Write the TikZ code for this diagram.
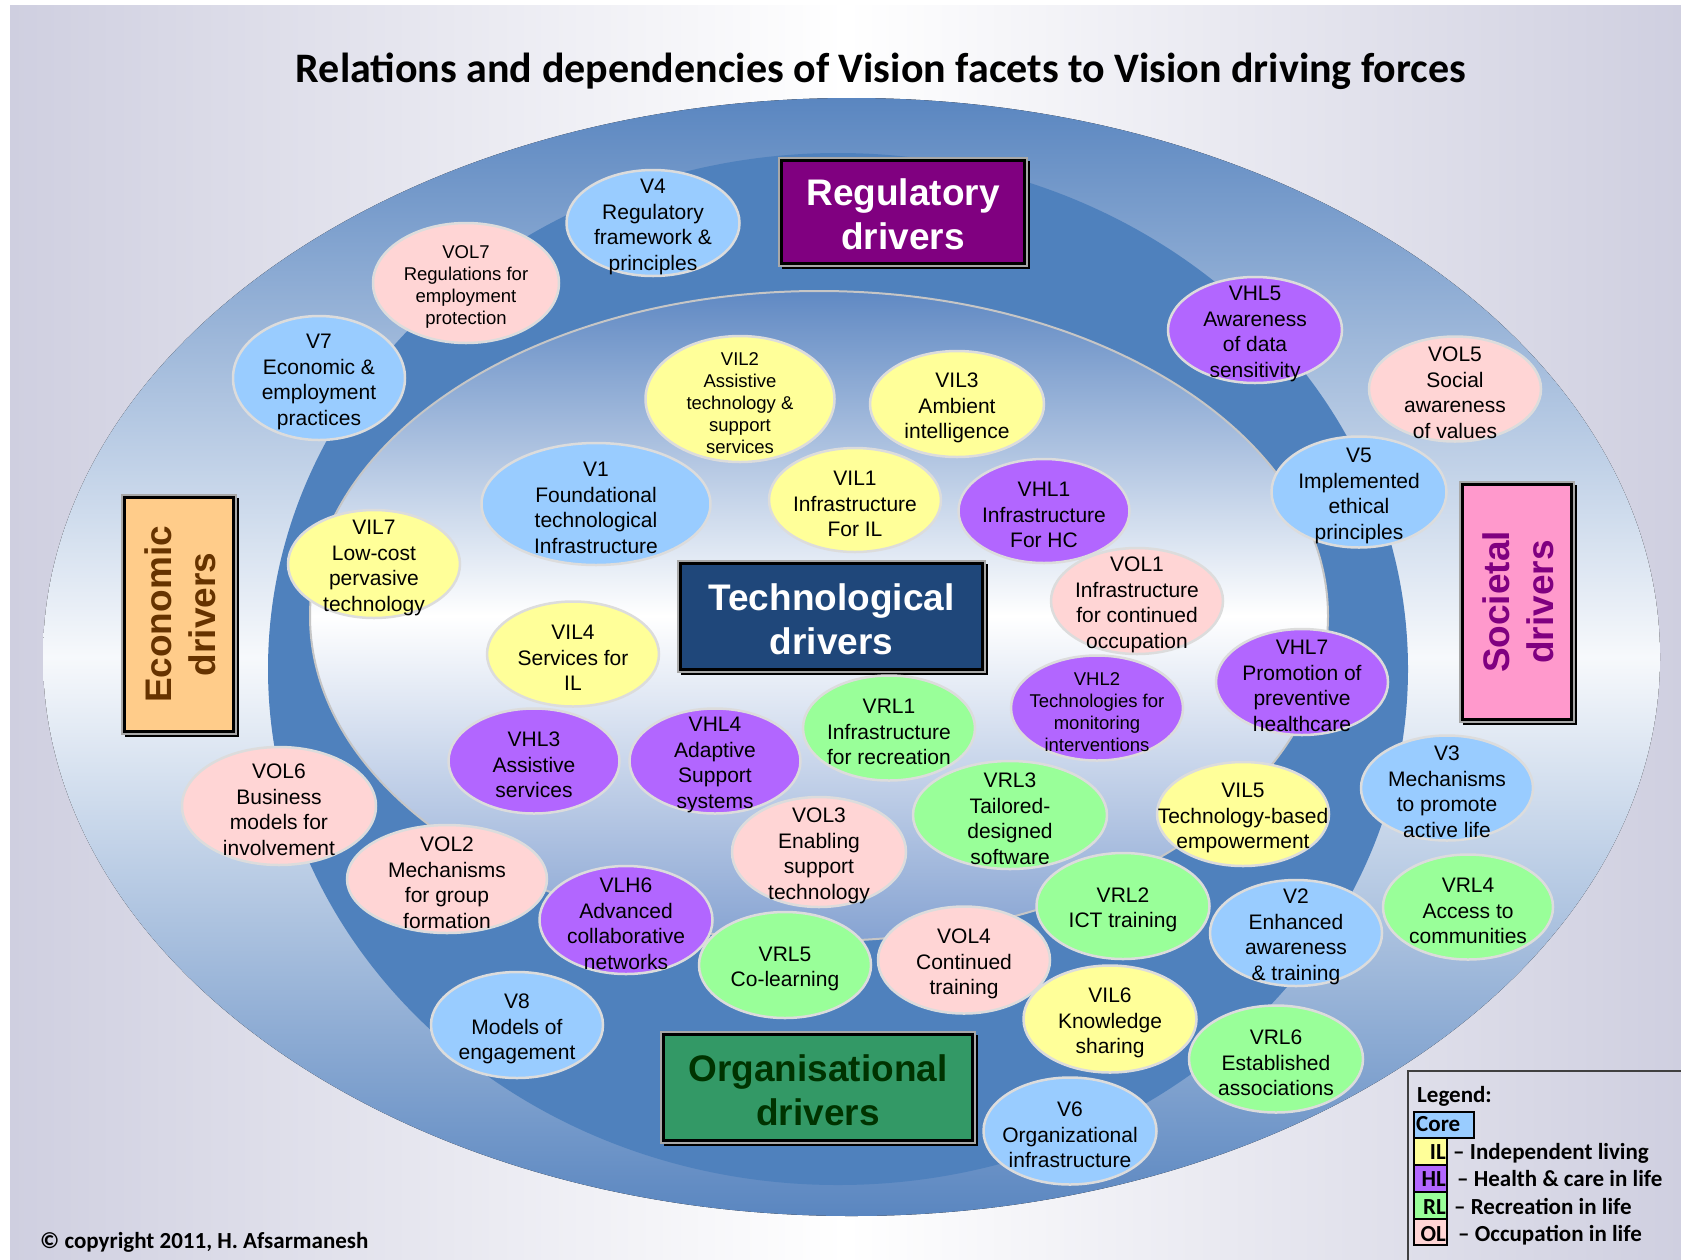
\documentclass[tikz,border=0pt]{standalone}
\usepackage{fontspec}
\setmainfont{Liberation Sans}
\newfontfamily\carl{Carlito}
\usetikzlibrary{shapes.geometric}
\definecolor{lav}{HTML}{CFCFE0}
\definecolor{ringblue}{HTML}{5A86C0}
\definecolor{midblue}{HTML}{4F81BD}
\definecolor{innertop}{HTML}{6089C3}
\definecolor{innerbot}{HTML}{86A3D2}
\definecolor{bubline}{HTML}{DCDCDC}
\definecolor{coreC}{HTML}{99CCFF}
\definecolor{ilC}{HTML}{FFFF99}
\definecolor{hlC}{HTML}{B266FF}
\definecolor{rlC}{HTML}{99FF99}
\definecolor{olC}{HTML}{FFD5D5}
\definecolor{regC}{HTML}{800080}
\definecolor{techC}{HTML}{1F477A}
\definecolor{orgC}{HTML}{339966}
\definecolor{orgT}{HTML}{003300}
\definecolor{ecoC}{HTML}{FFCC8A}
\definecolor{ecoT}{HTML}{663300}
\definecolor{socC}{HTML}{FF99CC}
\definecolor{socT}{HTML}{800080}
\definecolor{legline}{HTML}{404040}
\definecolor{frameC}{HTML}{A8A8A8}
\newcommand\mybub[8]{%
  \node[#2,minimum width=#6pt,minimum height=#7pt] (#1) at (#4,#5) {};
  \node[#3] (#1t) at (#1.center) {#8};}
% x1, y1, x2, y2
\newcommand\myframe[4]{%
  \draw[black, line width=3pt] (#1+2.5,#2+2.5) rectangle (#3-2.5,#4-2.5);}
\begin{document}
\begin{tikzpicture}[x=1pt,y=-1pt,
  bub/.style={ellipse, draw=bubline, line width=2.5pt, inner sep=0pt},
  coreb/.style={bub, fill=coreC},
  ilb/.style={bub, fill=ilC},
  hlb/.style={bub, fill=hlC},
  rlb/.style={bub, fill=rlC},
  olb/.style={bub, fill=olC},
  btxt/.style={align=center, inner sep=0pt, yshift=-4pt, font=\fontsize{21}{25.5}\selectfont},
  stxt/.style={align=center, inner sep=0pt, yshift=-4pt, font=\fontsize{18.5}{22}\selectfont},
  drv/.style={rectangle, draw=frameC, line width=1.5pt, inner sep=0pt},
  drvtxt/.style={align=center, inner sep=0pt, font=\bfseries\fontsize{37}{44}\selectfont},
  legbox/.style={draw=black, line width=1.5pt},
  legtxt/.style={anchor=base west, inner sep=0pt, font=\carl\bfseries\fontsize{23}{27}\selectfont}
]
\useasboundingbox (0,0) rectangle (1681,1259);
\fill[white] (0,0) rectangle (1681,1259);
\fill[left color=lav, right color=lav, middle color=white] (10,5) rectangle (1681,1259);
% rings
\fill[top color=ringblue, bottom color=ringblue, middle color=white!95!ringblue] (851.5,657) ellipse [x radius=808.5, y radius=559];
\fill[midblue] (838,669) ellipse [x radius=570, y radius=516];
\draw[draw=gray!45, line width=2pt, top color=innertop, bottom color=innerbot, middle color=white] (819,616) ellipse [x radius=509, y radius=325];
% title
\node[anchor=base, inner sep=0pt, font=\carl\bfseries\fontsize{42}{50}\selectfont] (title) at (881,82) {Relations and dependencies of Vision facets to Vision driving forces};
% drivers
\fill[black] (782,161) rectangle (1030,269);
\node[drv, fill=regC, minimum width=248pt, minimum height=108pt] (reg) at (903,212) {};
\myframe{779}{158}{1027}{266}
\node[drvtxt, text=white] (regt) at ([yshift=-2.5pt]reg.center) {Regulatory\\drivers};
\fill[black] (125,498) rectangle (239,737);
\node[drv, fill=ecoC, minimum width=114pt, minimum height=239pt] (eco) at (179,614.5) {};
\myframe{122}{495}{236}{734}
\node[drvtxt, text=ecoT, rotate=90] (ecot) at ([xshift=1.5pt]eco.center) {Economic\\drivers};
\fill[black] (1463,485) rectangle (1577,725);
\node[drv, fill=socC, minimum width=114pt, minimum height=240pt] (soc) at (1517,602) {};
\myframe{1460}{482}{1574}{722}
\node[drvtxt, text=socT, rotate=90] (soct) at ([xshift=1.5pt]soc.center) {Societal\\drivers};
\fill[black] (681,564) rectangle (988,675);
\node[drv, fill=techC, minimum width=307pt, minimum height=111pt] (tech) at (831.5,616.5) {};
\myframe{678}{561}{985}{672}
\node[drvtxt, text=white] (techt) at ([yshift=-2.5pt]tech.center) {Technological\\drivers};
\fill[black] (664,1035) rectangle (978,1146);
\node[drv, fill=orgC, minimum width=314pt, minimum height=111pt] (org) at (818,1087.5) {};
\myframe{661}{1032}{975}{1143}
\node[drvtxt, text=orgT] (orgt) at ([yshift=-2.5pt]org.center) {Organisational\\drivers};
% bubbles
\mybub{v4}{coreb}{btxt}{653}{223}{173}{106}{V4\\Regulatory\\framework \&\\principles}
\mybub{vol7}{olb}{stxt}{466}{283}{186}{120}{VOL7\\Regulations for\\employment\\protection}
\mybub{v7}{coreb}{btxt}{319}{378}{172}{124}{V7\\Economic \&\\employment\\practices}
\mybub{vhl5}{hlb}{btxt}{1255}{330}{174}{106}{VHL5\\Awareness\\of data\\sensitivity}
\mybub{vol5}{olb}{btxt}{1455}{389}{172}{105}{VOL5\\Social\\awareness\\of values}
\mybub{vil2}{ilb}{stxt}{740}{399}{189}{126}{VIL2\\Assistive\\technology \&\\support\\services}
\mybub{vil3}{ilb}{btxt}{957}{404}{174}{106}{VIL3\\Ambient\\intelligence}
\mybub{v1}{coreb}{btxt}{596}{504}{229}{122}{V1\\Foundational\\technological\\Infrastructure}
\mybub{vil1}{ilb}{btxt}{855}{500}{172}{104}{VIL1\\Infrastructure\\For IL}
\mybub{vhl1}{hlb}{btxt}{1044}{511}{171}{104}{VHL1\\Infrastructure\\For HC}
\mybub{v5}{coreb}{btxt}{1359}{492}{175}{111}{V5\\Implemented\\ethical\\principles}
\mybub{vil7}{ilb}{btxt}{374}{564}{172}{108}{VIL7\\Low-cost\\pervasive\\technology}
\mybub{vol1}{olb}{btxt}{1137}{601}{172}{106}{VOL1\\Infrastructure\\for continued\\occupation}
\mybub{vil4}{ilb}{btxt}{573}{654}{172}{105}{VIL4\\Services for\\IL}
\mybub{vhl7}{hlb}{btxt}{1302}{682}{172}{106}{VHL7\\Promotion of\\preventive\\healthcare}
\mybub{vhl2}{hlb}{stxt}{1097}{708}{172}{105}{VHL2\\Technologies for\\monitoring\\interventions}
\mybub{vrl1}{rlb}{btxt}{889}{728}{172}{105}{VRL1\\Infrastructure\\for recreation}
\mybub{vhl3}{hlb}{btxt}{534}{761}{171}{105}{VHL3\\Assistive\\services}
\mybub{vhl4}{hlb}{btxt}{715}{761}{171}{105}{VHL4\\Adaptive\\Support\\systems}
\mybub{vol6}{olb}{btxt}{279}{806}{194}{118}{VOL6\\Business\\models for\\involvement}
\mybub{v3}{coreb}{btxt}{1447}{788}{172}{105}{V3\\Mechanisms\\to promote\\active life}
\mybub{vrl3}{rlb}{btxt}{1010}{815}{194}{108}{VRL3\\Tailored-\\designed\\software}
\mybub{vil5}{ilb}{btxt}{1243}{814}{172}{104}{VIL5\\Technology-based\\empowerment}
\mybub{vol3}{olb}{btxt}{819}{852}{174}{110}{VOL3\\Enabling\\support\\technology}
\mybub{vol2}{olb}{btxt}{447}{879}{200}{108}{VOL2\\Mechanisms\\for group\\formation}
\mybub{vlh6}{hlb}{btxt}{626}{920}{173}{108}{VLH6\\Advanced\\collaborative\\networks}
\mybub{vrl2}{rlb}{btxt}{1123}{906}{173}{106}{VRL2\\ICT training}
\mybub{v2}{coreb}{btxt}{1296}{933}{172}{106}{V2\\Enhanced\\awareness\\\& training}
\mybub{vrl4}{rlb}{btxt}{1468}{907}{170}{105}{VRL4\\Access to\\communities}
\mybub{vrl5}{rlb}{btxt}{785}{965}{172}{106}{VRL5\\Co-learning}
\mybub{vol4}{olb}{btxt}{964}{960}{172}{107}{VOL4\\Continued\\training}
\mybub{v8}{coreb}{btxt}{517}{1025}{172}{106}{V8\\Models of\\engagement}
\mybub{vil6}{ilb}{btxt}{1110}{1019}{173}{107}{VIL6\\Knowledge\\sharing}
\mybub{vrl6}{rlb}{btxt}{1276}{1059}{174}{107}{VRL6\\Established\\associations}
\mybub{v6}{coreb}{btxt}{1070}{1131}{173}{107}{V6\\Organizational\\infrastructure}
% legend
\draw[legline, line width=1.5pt] (1408,1262) |- (1685,1071);
\node[legtxt] (legt) at (1417,1102) {Legend:};
\fill[coreC] (1414,1112) rectangle (1474,1138);
\draw[legbox] (1414,1112) rectangle (1474,1138);
\node[legtxt] (lcore) at (1416,1131) {Core};
\fill[ilC] (1414,1138) rectangle (1447,1165);
\fill[hlC] (1414,1165) rectangle (1447,1192);
\fill[rlC] (1414,1192) rectangle (1447,1219);
\fill[olC] (1414,1219) rectangle (1447,1245);
\draw[legbox] (1414,1138) rectangle (1447,1245);
\draw[legbox] (1414,1165) -- (1447,1165) (1414,1192) -- (1447,1192) (1414,1219) -- (1447,1219);
\node[legtxt, anchor=base east] (lil) at (1446,1159) {IL};
\node[legtxt, anchor=base east] (lhl) at (1446,1186) {HL};
\node[legtxt, anchor=base east] (lrl) at (1446,1214) {RL};
\node[legtxt, anchor=base east] (lol) at (1446,1241) {OL};
\node[legtxt] (dil) at (1453,1159) {– Independent living};
\node[legtxt] (dhl) at (1457,1186) {– Health \& care in life};
\node[legtxt] (drl) at (1454,1214) {– Recreation in life};
\node[legtxt] (dol) at (1458,1241) {– Occupation in life};
% copyright
\node[anchor=base west, inner sep=0pt, font=\carl\bfseries\fontsize{23}{27}\selectfont] (copy) at (40,1248) {© copyright 2011, H. Afsarmanesh};
\end{tikzpicture}
\end{document}
